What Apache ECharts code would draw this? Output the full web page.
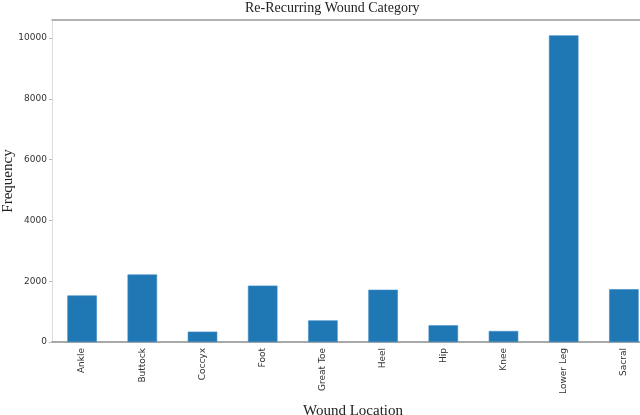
<!DOCTYPE html>
<html>
<head>
<meta charset="utf-8">
<script src="https://cdn.jsdelivr.net/npm/echarts@6/dist/echarts.min.js"></script>
<style>
html,body{margin:0;padding:0;background:#fff;}
#chart{width:640px;height:415px;}
</style>
</head>
<body>
<div id="chart"></div>
<script>
const categories = ['Ankle', 'Buttock', 'Coccyx', 'Foot', 'Great Toe', 'Heel', 'Hip', 'Knee', 'Lower Leg', 'Sacral'];
const frequency = [1530, 2220, 340, 1855, 710, 1718, 550, 362, 10085, 1738];
const yTicks = [0, 2000, 4000, 6000, 8000, 10000];
const titleText = 'Re-Recurring Wound Category';
const xTitle = 'Wound Location';
const yTitle = 'Frequency';

const chart = echarts.init(document.getElementById('chart'), null, {renderer: 'canvas'});
chart.setOption({
  animation: false,
  backgroundColor: '#ffffff',
  title: {
    text: titleText,
    left: 240,
    top: -4,
    textStyle: {fontFamily: 'Liberation Serif', fontSize: 14, fontWeight: 'normal', color: '#222'}
  },
  grid: {left: 52, right: -14, top: 20, bottom: 73, containLabel: false, outerBoundsMode: 'none'},
  xAxis: [{
    type: 'category',
    data: categories,
    name: xTitle,
    nameLocation: 'middle',
    nameGap: 62,
    nameTextStyle: {fontFamily: 'Liberation Serif', fontSize: 15, color: '#222'},
    axisLine: {lineStyle: {color: '#8c8c8c', width: 1.5}},
    axisTick: {alignWithLabel: true, length: 4, lineStyle: {color: '#444'}},
    axisLabel: {rotate: 90, interval: 0, margin: 6, fontFamily: 'DejaVu Sans', fontSize: 9, color: '#333'}
  }, {
    type: 'category',
    data: categories,
    position: 'top',
    axisLine: {lineStyle: {color: '#999', width: 1.5}},
    axisTick: {show: false},
    axisLabel: {show: false}
  }],
  yAxis: {
    type: 'value',
    min: 0,
    max: 10590,
    name: yTitle,
    nameLocation: 'middle',
    nameGap: 36,
    nameMoveOverlap: false,
    nameTextStyle: {fontFamily: 'Liberation Serif', fontSize: 15, color: '#222'},
    axisLine: {show: true, lineStyle: {color: '#dcdcdc', width: 1}},
    axisTick: {show: true, length: 3, customValues: yTicks, lineStyle: {color: '#bbb'}},
    axisLabel: {customValues: yTicks, margin: 5, fontFamily: 'DejaVu Sans', fontSize: 9, color: '#333',
      formatter: function (v) { return String(v); }},
    splitLine: {show: false}
  },
  series: [{
    type: 'bar',
    data: frequency,
    barWidth: 29.5,
    itemStyle: {color: '#1f77b4', borderColor: '#3d8ac4', borderWidth: 0.6}
  }]
});
</script>
</body>
</html>
